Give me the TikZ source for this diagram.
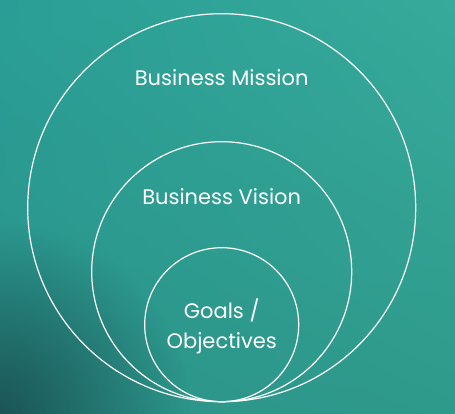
\documentclass[tikz,border=0pt]{standalone}
\usepackage{fontspec}
\setmainfont{Poppins}
\usetikzlibrary{shadings,fadings}
\definecolor{tealdark}{HTML}{1B5557}
\definecolor{tealbottom}{HTML}{2B9389}
\definecolor{tealmid}{HTML}{2E9A8B}
\definecolor{teallight}{HTML}{37AA9B}
\definecolor{tealtop}{HTML}{2A9E96}
\tikzfading[name=cornerfade, inner color=transparent!0, outer color=transparent!100]
\tikzset{
  ring/.style={circle, draw=white, line width=1.2pt, inner sep=0pt},
  caption/.style={text=white, anchor=base, font=\fontsize{21}{24}\selectfont}
}
\begin{document}
\begin{tikzpicture}[x=1pt,y=1pt]
    \shade[lower left=tealbottom, lower right=tealmid, upper left=tealtop, upper right=teallight]
        (0,0) rectangle (455,413);
    \begin{scope}
        \clip (0,0) rectangle (455,413);
        \fill[tealdark, path fading=cornerfade] (0,0) circle (190pt);
    \end{scope}
    \useasboundingbox (0,0) rectangle (455,413);
    \coordinate (base) at (221.7,11.3);
    % circles tangent at the bottom
    \node[ring, minimum size=388pt] (mission) at ([yshift=194pt]base) {};
    \node[ring, minimum size=260pt] (vision) at ([yshift=130pt]base) {};
    \node[ring, minimum size=154pt] (goals) at ([yshift=77pt]base) {};
    \node[caption] (missiontext) at (221.7,327.3) {Business Mission};
    \node[caption] (visiontext) at (221.7,208.5) {Business Vision};
    \node[caption] (goalstext) at (221.7,95) {Goals /};
    \node[caption] (objtext) at (221.7,65) {Objectives};
\end{tikzpicture}
\end{document}
